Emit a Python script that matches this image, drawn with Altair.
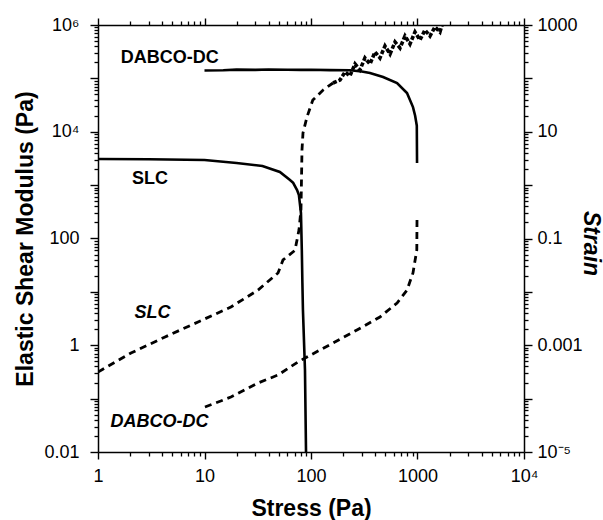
import altair as alt
import pandas as pd

FONT = "Liberation Sans"

# ---- data ----
slc_mod_stress = [1, 3, 10, 20, 35, 51, 63.5, 68, 74, 77, 80.5, 82, 83, 84, 87.8, 89.8]
slc_mod_value = [3080, 3050, 2960, 2600, 2280, 1760, 1250, 1100, 810, 650, 300, 60, 15, 4.6, 0.34, 0.01]

dabco_mod_stress = [10, 15, 20, 30, 40, 60, 80, 100, 150, 232, 300, 358, 475, 643, 797, 907, 950, 985, 990]
dabco_mod_value = [1.40e5, 1.42e5, 1.46e5, 1.44e5, 1.47e5, 1.45e5, 1.44e5, 1.45e5, 1.43e5, 1.42e5,
                   1.35e5, 1.26e5, 1.06e5, 8.2e4, 5.3e4, 2.9e4, 2.0e4, 1.3e4, 2600]

slc_strain_stress = [1, 2.04, 4.26, 8.7, 17.7, 31.8, 49, 54.6, 70.7, 77.1, 80.5, 82.3, 84.1, 91.7, 104, 130, 161]
slc_strain_value = [3.15e-4, 7.16e-4, 1.43e-3, 2.73e-3, 5.21e-3, 1.08e-2, 2.26e-2, 3.96e-2, 6.0e-2, 0.144, 0.342,
                    4.55, 9.5, 18.9, 39.3, 60.6, 81.9]

# noisy high-strain part of the SLC strain curve (scattered band)
slc_cloud_stress = [161, 187, 209, 232, 259, 288, 321, 358, 399, 444, 495, 552, 615, 685, 763, 850, 947,
                    1055, 1175, 1310, 1460, 1625, 1700]
slc_cloud_value = [81.9, 93, 132, 111, 186, 144, 241, 186, 312, 241, 404, 286, 481, 371, 622, 441, 740,
                   524, 806, 622, 918, 740, 1000]

dabco_strain_stress = [10.1, 17.7, 31.8, 49, 75.5, 91.7, 161, 270, 444, 643, 797, 907, 985, 990]
dabco_strain_value = [6.97e-5, 1.07e-4, 1.96e-4, 2.77e-4, 4.86e-4, 6.03e-4, 1.10e-3, 1.93e-3, 3.38e-3,
                      6.19e-3, 1.08e-2, 2.26e-2, 6.1e-2, 0.275]

mod_label_text = ["DABCO-DC", "SLC"]
mod_label_stress = [4.71, 3.08]
mod_label_value = [2.36e5, 1300]

strain_label_text = ["SLC", "DABCO-DC"]
strain_label_stress = [3.25, 3.78]
strain_label_value = [4.0e-3, 3.72e-5]

x_label_vals = [1, 10, 100, 1000, 10000]
x_label_text = ["1", "10", "100", "1000", "10\u2074"]
left_label_vals = [0.01, 1, 100, 10000, 1000000]
left_label_text = ["0.01", "1", "100", "10\u2074", "10\u2076"]
right_label_vals = [1e-05, 0.001, 0.1, 10, 1000]
right_label_text = ["10\u207b\u2075", "0.001", "0.1", "10", "1000"]

x_major = [1, 10, 100, 1000, 10000]
x_minor = [k * 10 ** e for e in range(0, 4) for k in range(2, 10)]
left_major = [0.01, 0.1, 1, 10, 100, 1000, 10000, 100000, 1000000]
left_minor = [k * 10.0 ** e for e in range(-2, 6) for k in range(2, 10)]
right_major = [1e-05, 1e-04, 0.001, 0.01, 0.1, 1, 10, 100, 1000]
right_minor = [k * 10.0 ** e for e in range(-5, 3) for k in range(2, 10)]

# ---- tables ----
def series_df(name, xs, ys, col):
    return pd.DataFrame({"series": name, "idx": range(len(xs)), "stress": xs, col: ys})

mod_df = pd.concat([series_df("SLC", slc_mod_stress, slc_mod_value, "G"),
                    series_df("DABCO-DC", dabco_mod_stress, dabco_mod_value, "G")])
strain_df = pd.concat([series_df("SLC", slc_strain_stress, slc_strain_value, "strain"),
                       series_df("SLC cloud", slc_cloud_stress, slc_cloud_value, "strain"),
                       series_df("DABCO-DC", dabco_strain_stress, dabco_strain_value, "strain")])
mod_lab_df = pd.DataFrame({"label": mod_label_text, "stress": mod_label_stress, "G": mod_label_value})
strain_lab_df = pd.DataFrame({"label": strain_label_text, "stress": strain_label_stress, "strain": strain_label_value})


def label_expr(vals, texts):
    parts = [f"datum.value == {v!r} ? '{t}'" for v, t in zip(vals, texts)]
    return " : ".join(parts) + " : ''"


base_axis = dict(grid=False, domainColor="black", domainWidth=1.5, tickColor="black", tickWidth=1.4,
                 labelFont=FONT, labelFontSize=18, labelColor="black", labelOverlap=False, labelFlush=False,
                 titleFont=FONT, titleFontSize=23, titleFontWeight="bold", titleColor="black")
minor_axis = dict(grid=False, domain=False, labels=False, title=None, tickColor="black", tickWidth=1.3)

xscale = alt.Scale(type="log", domain=[1, 10000])
yscale_mod = alt.Scale(type="log", domain=[0.01, 1e6])
yscale_strain = alt.Scale(type="log", domain=[1e-5, 1000])

x_bottom = alt.Axis(orient="bottom", values=x_major, labelExpr=label_expr(x_label_vals, x_label_text),
                    tickSize=7, labelPadding=8,
                    title="Stress (Pa)", titleBaseline="alphabetic", titleY=63, **base_axis)
x_bottom_minor = alt.Axis(orient="bottom", values=x_minor, tickSize=4, **minor_axis)
x_top = alt.Axis(orient="top", values=x_major, labels=False, tickSize=7, title=None, **base_axis)
x_top_minor = alt.Axis(orient="top", values=x_minor, tickSize=4, **minor_axis)

y_left = alt.Axis(orient="left", values=left_major, labelExpr=label_expr(left_label_vals, left_label_text),
                  tickSize=8, labelPadding=11,
                  title="Elastic Shear Modulus (Pa)", titleAngle=270, titleBaseline="alphabetic",
                  titleX=-66, **base_axis)
y_left_minor = alt.Axis(orient="left", values=left_minor, tickSize=4, **minor_axis)
y_right = alt.Axis(orient="right", values=right_major, labelExpr=label_expr(right_label_vals, right_label_text),
                   tickSize=8, labelPadding=5,
                   title="Strain", titleAngle=90, titleBaseline="alphabetic", titleX=59, titleY=218,
                   titleFontStyle="italic", **base_axis)
y_right_minor = alt.Axis(orient="right", values=right_minor, tickSize=4, **minor_axis)

mod_lines = alt.Chart(mod_df).mark_line(color="black", strokeWidth=2.6, clip=True).encode(
    x=alt.X("stress:Q", scale=xscale, axis=x_bottom),
    y=alt.Y("G:Q", scale=yscale_mod, axis=y_left),
    detail="series:N",
    order="idx:Q",
)
mod_text = alt.Chart(mod_lab_df).mark_text(font=FONT, fontSize=18, fontWeight="bold", color="black",
                                           align="center", baseline="middle").encode(
    x=alt.X("stress:Q", scale=xscale, axis=x_bottom_minor),
    y=alt.Y("G:Q", scale=yscale_mod, axis=y_left_minor),
    text="label:N",
)
is_cloud = "datum.series == 'SLC cloud'"
strain_lines = alt.Chart(strain_df).mark_line(color="black", clip=True).encode(
    x=alt.X("stress:Q", scale=xscale, axis=x_top),
    y=alt.Y("strain:Q", scale=yscale_strain, axis=y_right),
    detail="series:N",
    order="idx:Q",
    strokeWidth=alt.condition(is_cloud, alt.value(3.6), alt.value(2.8)),
    strokeDash=alt.condition(is_cloud, alt.value([4, 2]), alt.value([7, 5])),
)
strain_text = alt.Chart(strain_lab_df).mark_text(font=FONT, fontSize=18, fontWeight="bold", fontStyle="italic",
                                                 color="black", align="center", baseline="middle").encode(
    x=alt.X("stress:Q", scale=xscale, axis=x_top_minor),
    y=alt.Y("strain:Q", scale=yscale_strain, axis=y_right_minor),
    text="label:N",
)

chart = alt.layer(mod_lines, mod_text, strain_lines, strain_text).resolve_scale(
    y="independent"
).resolve_axis(
    x="independent", y="independent"
).properties(
    width=426, height=427,
    padding={"left": 98, "top": 25, "right": 79, "bottom": 68},
    autosize=alt.AutoSizeParams(type="none"),
    background="white",
).configure_view(stroke="transparent")

chart.save("out.html", embed_options={"renderer": "svg", "actions": False})
